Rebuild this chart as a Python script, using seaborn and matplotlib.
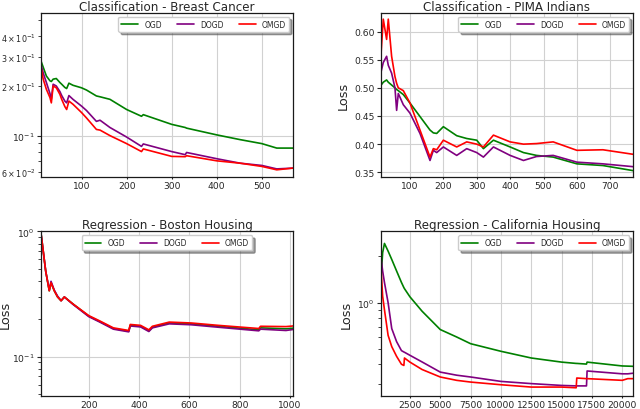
import matplotlib
matplotlib.use("Agg")
import seaborn as sns
from matplotlib import pyplot as plt

# Classification - Breast Cancer (log y)
bc_x = [10, 15, 22, 30, 33, 37, 44, 52, 56, 63, 67, 72, 81, 100, 111, 133, 141,
        163, 200, 233, 237, 300, 330, 333, 400, 452, 500, 533, 569]
bc_ogd = [0.284, 0.26, 0.23, 0.215, 0.213, 0.22, 0.222, 0.21, 0.205, 0.196, 0.193,
          0.208, 0.202, 0.195, 0.189, 0.174, 0.172, 0.166, 0.144, 0.131, 0.134,
          0.117, 0.112, 0.111, 0.101, 0.0945, 0.0894, 0.084, 0.084]
bc_dogd = [0.27, 0.24, 0.21, 0.18, 0.166, 0.205, 0.2, 0.185, 0.175, 0.162, 0.158,
           0.175, 0.166, 0.151, 0.142, 0.122, 0.124, 0.112, 0.098, 0.086, 0.089,
           0.080, 0.0766, 0.079, 0.0724, 0.068, 0.0659, 0.0628, 0.0635]
bc_omgd = [0.26, 0.22, 0.191, 0.17, 0.158, 0.2, 0.195, 0.178, 0.166, 0.15, 0.144,
           0.162, 0.155, 0.138, 0.128, 0.109, 0.108, 0.1, 0.0894, 0.080, 0.083,
           0.0748, 0.0745, 0.0755, 0.0703, 0.068, 0.065, 0.062, 0.0635]

# Classification - PIMA Indians (linear y)
pima_x = [10, 20, 30, 35, 45, 55, 60, 65, 80, 100, 130, 160, 170, 180, 200, 240,
          270, 300, 320, 350, 400, 440, 479, 529, 600, 678, 768]
pima_ogd = [0.502, 0.51, 0.514, 0.51, 0.505, 0.5, 0.497, 0.495, 0.488, 0.473, 0.449,
            0.425, 0.42, 0.419, 0.431, 0.415, 0.41, 0.407, 0.392, 0.407, 0.395,
            0.385, 0.38, 0.377, 0.365, 0.362, 0.353]
pima_dogd = [0.52, 0.545, 0.556, 0.54, 0.526, 0.5, 0.46, 0.49, 0.47, 0.455, 0.419,
             0.371, 0.389, 0.385, 0.395, 0.38, 0.392, 0.385, 0.377, 0.395, 0.38,
             0.371, 0.378, 0.38, 0.368, 0.365, 0.36]
pima_omgd = [0.53, 0.622, 0.586, 0.622, 0.556, 0.52, 0.508, 0.5, 0.495, 0.473, 0.425,
             0.377, 0.392, 0.39, 0.407, 0.395, 0.404, 0.4, 0.395, 0.416, 0.404,
             0.4, 0.401, 0.404, 0.389, 0.39, 0.382]

# Regression - Boston Housing (log y)
bh_x = [10, 15, 29, 43, 50, 63, 76, 90, 103, 137, 200, 244, 298, 359, 365, 406,
        439, 453, 520, 607, 715, 876, 883, 984, 1012]
bh_ogd = [0.97, 0.81, 0.48, 0.336, 0.39, 0.336, 0.30, 0.28, 0.30, 0.264, 0.211,
          0.191, 0.168, 0.160, 0.178, 0.175, 0.161, 0.172, 0.186, 0.183, 0.175,
          0.164, 0.170, 0.167, 0.169]
bh_dogd = [0.97, 0.81, 0.48, 0.34, 0.40, 0.34, 0.305, 0.28, 0.30, 0.262, 0.209,
           0.189, 0.166, 0.158, 0.176, 0.173, 0.159, 0.170, 0.183, 0.180, 0.172,
           0.161, 0.166, 0.162, 0.165]
bh_omgd = [0.97, 0.81, 0.48, 0.336, 0.39, 0.336, 0.30, 0.28, 0.30, 0.264, 0.213,
           0.193, 0.17, 0.162, 0.181, 0.178, 0.164, 0.175, 0.189, 0.186, 0.178,
           0.168, 0.175, 0.174, 0.176]

# Regression - California Housing (log y)
ch_x = [110, 250, 400, 700, 1000, 1400, 1800, 2000, 2050, 2500, 3500, 5000, 6350,
        7500, 10000, 12500, 15000, 16200, 16250, 17050, 17100, 20000, 20450, 20880]
ch_ogd = [1.40, 2.1, 2.41, 2.15, 1.9, 1.6, 1.35, 1.25, 1.23, 1.09, 0.88, 0.67, 0.6,
          0.543, 0.485, 0.439, 0.413, 0.405, 0.405, 0.401, 0.413, 0.39, 0.389, 0.388]
ch_dogd = [1.97, 1.6, 1.35, 1.0, 0.68, 0.56, 0.49, 0.48, 0.478, 0.457, 0.414, 0.356,
           0.34, 0.331, 0.31, 0.30, 0.292, 0.29, 0.29, 0.29, 0.362, 0.347, 0.347, 0.35]
ch_omgd = [1.7, 1.1, 0.9, 0.615, 0.52, 0.45, 0.40, 0.393, 0.439, 0.413, 0.37, 0.331,
           0.315, 0.307, 0.295, 0.285, 0.285, 0.282, 0.326, 0.323, 0.323, 0.315,
           0.323, 0.323]

methods = ["OGD", "DOGD", "OMGD"]
colors = {"OGD": "green", "DOGD": "purple", "OMGD": "red"}

sns.set_style("whitegrid", {
    "axes.edgecolor": "0.1",
    "grid.color": "0.82",
    "xtick.bottom": True,
    "ytick.left": True,
})
plt.rcParams["font.family"] = ["DejaVu Sans"]

fig, axes = plt.subplots(2, 2, figsize=(6.4, 4.1), dpi=100)
fig.subplots_adjust(left=0.064, right=0.989, top=0.966, bottom=0.032,
                    wspace=0.349, hspace=0.329)

panels = [
    (axes[0, 0], "Classification - Breast Cancer", bc_x, [bc_ogd, bc_dogd, bc_omgd],
     True, (10, 569), (0.0558, 0.555), None, "upper right", 3),
    (axes[0, 1], "Classification - PIMA Indians", pima_x, [pima_ogd, pima_dogd, pima_omgd],
     False, (13, 768), (0.341, 0.633), "Loss", "upper right", 3),
    (axes[1, 0], "Regression - Boston Housing", bh_x, [bh_ogd, bh_dogd, bh_omgd],
     True, (10, 1012), (0.0487, 1.0), "Loss", "upper center", 0.5),
    (axes[1, 1], "Regression - California Housing", ch_x, [ch_ogd, ch_dogd, ch_omgd],
     True, (110, 20880), (0.25, 2.88), "Loss", "upper right", 3),
]

for ax, title, xs, series, logy, xlim, ylim, ylabel, loc, lpad in panels:
    for name, ys in zip(methods, series):
        sns.lineplot(x=xs, y=ys, ax=ax, color=colors[name], label=name, linewidth=1.2)
    if logy:
        ax.set_yscale("log")
    ax.set_xlim(*xlim)
    ax.set_ylim(*ylim)
    ax.set_title(title, fontsize=8.6, pad=2)
    ax.set_xlabel("")
    if ylabel:
        ax.set_ylabel(ylabel, fontsize=9.3, labelpad=lpad)
    ax.tick_params(axis="x", which="major", labelsize=6.6, length=1.5, width=0.8, pad=1.2)
    ax.tick_params(axis="y", which="major", labelsize=6.6, length=3, width=0.8, pad=1.5)
    ax.tick_params(axis="y", which="minor", labelsize=5.8, length=2, width=0.6, pad=1.5)
    ax.grid(True, which="major", linewidth=0.8)
    for sp in ax.spines.values():
        sp.set_linewidth(0.9)
    ax.legend(loc=loc, ncol=3, fontsize=5.5, frameon=True, shadow=True, fancybox=True,
              handlelength=2.2, columnspacing=2.0, borderpad=0.4, framealpha=1)

plt.savefig("out.png", dpi=100)
